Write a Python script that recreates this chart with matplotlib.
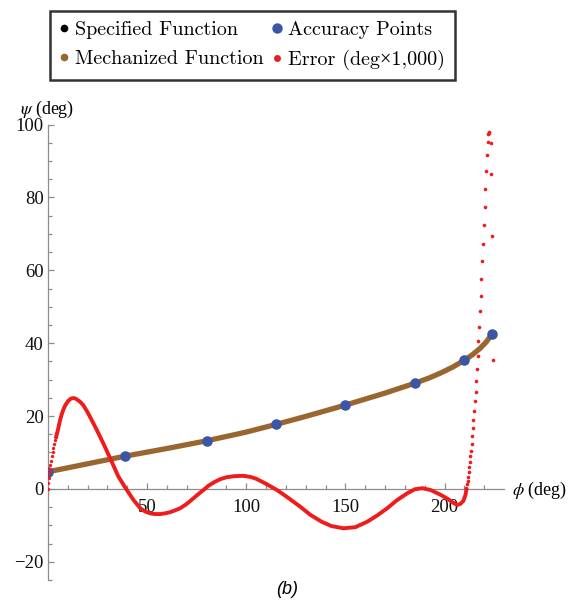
import numpy as np
import matplotlib
matplotlib.use("Agg")
import matplotlib.pyplot as plt
from matplotlib.lines import Line2D

plt.rcParams['font.family'] = ['Liberation Serif', 'DejaVu Serif']
plt.rcParams['mathtext.fontset'] = 'stix'

# function curve (specified / mechanized), deg
func_phi = [0, 10, 20, 39, 60, 80, 100, 115, 130, 150, 170, 185, 192, 198, 204, 210, 214, 218, 221, 224]
func_psi = [4.7, 5.8, 6.9, 9.0, 11.1, 13.2, 15.6, 17.7, 19.9, 23.0, 26.3, 29.0, 30.4, 31.8, 33.4, 35.3,
            36.8, 38.6, 40.3, 42.5]

# accuracy points
acc_phi = [0, 39, 80, 115, 150, 185, 210, 224]
acc_psi = [4.7, 9.0, 13.2, 17.7, 23.0, 29.0, 35.3, 42.6]

# error (deg x 1000): first dots, smooth part, steep tail dots
err_head_phi = [0.0, 0.15, 0.35, 0.6, 0.9, 1.2, 1.5, 1.9, 2.3, 2.7, 3.1, 3.6, 4.1]
err_head_val = [0.0, 1.5, 2.9, 4.3, 5.5, 6.7, 7.8, 8.9, 10.0, 11.1, 12.2, 13.3, 14.3]

err_phi = [4.1, 5.0, 6.1, 7.0, 7.7, 8.4, 9.0, 10.3, 11.3, 12.3, 13.4, 14.5, 16.0, 17.8, 20.0,
           22.9, 25.5, 27.9, 31.7, 35.5, 39.4, 43.1, 46.5, 49.0, 51.5, 54.0, 56.6, 59.0, 61.5,
           64.0, 66.7, 69.5, 72.0, 75.0, 78.4, 81.0, 84.0, 87.0, 90.0, 94.0, 98.6, 102.0,
           105.0, 110.0, 115.5, 120.0, 127.3, 132.3, 138.0, 143.0, 149.1, 155.0, 161.0,
           166.0, 171.1, 176.0, 181.2, 185.0, 188.7, 193.0, 198.0, 201.5, 204.7, 206.4,
           208.0, 209.5, 210.6, 211.0]
err_val = [14.3, 16.2, 18.9, 20.6, 21.7, 22.6, 23.2, 24.2, 24.7, 24.9, 24.9, 24.6, 24.0, 23.0, 21.0,
           18.0, 15.2, 12.5, 8.0, 3.4, 0.0, -3.0, -5.3, -6.2, -6.7, -6.9, -6.9, -6.7, -6.4,
           -5.9, -5.3, -4.3, -3.2, -1.8, -0.3, 0.9, 1.9, 2.7, 3.2, 3.5, 3.6, 3.3,
           2.8, 1.4, -0.3, -2.0, -4.9, -7.1, -9.0, -10.2, -10.8, -10.5, -9.0,
           -7.3, -5.3, -3.1, -1.2, -0.1, 0.2, -0.3, -1.6, -2.7, -3.9, -4.4,
           -4.1, -3.3, -1.6, -0.3]

err_tail_phi = [211.0, 211.3, 211.6, 211.9, 212.2, 212.5, 212.8, 213.1, 213.4, 213.7, 214.0,
                214.3, 214.6, 214.9, 215.3, 215.7, 216.0, 216.4, 216.8, 217.1, 217.5, 224.4,
                217.9, 218.2, 218.6, 219.0, 219.4, 219.8, 223.7, 220.2, 220.6, 221.0, 221.4,
                223.2, 221.7, 223.2, 222.0, 222.3, 222.6]
err_tail_val = [0.2, 1.3, 2.3, 3.4, 4.6, 6.0, 7.3, 8.9, 10.5, 12.3, 14.5,
                16.7, 18.9, 21.4, 24.0, 26.7, 29.7, 33.0, 36.6, 40.5, 44.4, 35.5,
                48.8, 52.9, 57.7, 62.6, 67.3, 72.4, 69.4, 77.5, 82.3, 87.2, 91.6,
                86.5, 95.2, 94.8, 97.3, 97.6, 97.9]

legend_labels = ["Specified Function", "Accuracy Points", "Mechanized Function", "Error (deg\u00d71,000)"]

c_black = "#000000"
c_blue = "#3b56a5"
c_brown = "#9a6630"
c_red = "#f01c1c"
c_axis = "#8c8c8c"

fig = plt.figure(figsize=(5.7, 6.03), dpi=100)
ax = fig.add_axes([0.0842, 0.0381, 0.80, 0.7554])
ax.set_xlim(0, 230)
ax.set_ylim(-25, 100)

ax.plot(func_phi, func_psi, color=c_black, lw=2.0, zorder=2)
ax.plot(func_phi, func_psi, color=c_brown, lw=3.8, solid_capstyle='round', zorder=3)
ax.plot(acc_phi, acc_psi, 'o', color=c_blue, ms=7.6, mec='none', zorder=4)
ax.plot(err_phi, err_val, color=c_red, lw=2.8, zorder=5)
ax.plot(err_head_phi, err_head_val, 'o', color=c_red, ms=2.4, mec='none', zorder=5)
ax.plot(err_tail_phi, err_tail_val, 'o', color=c_red, ms=2.6, mec='none', zorder=5)

for s in ['top', 'right']:
    ax.spines[s].set_visible(False)
ax.spines['left'].set_position(('data', 0))
ax.spines['bottom'].set_position(('data', 0))
for s in ['left', 'bottom']:
    ax.spines[s].set_color(c_axis)
    ax.spines[s].set_linewidth(0.9)

ax.set_xticks([50, 100, 150, 200])
ax.set_xticks(np.arange(10, 230, 10), minor=True)
ax.set_yticks([-20, 0, 20, 40, 60, 80, 100])
ax.set_yticks(np.arange(-25, 101, 5), minor=True)
ax.tick_params(which='both', direction='in', color=c_axis, width=0.9, labelsize=13.5, labelcolor='#111111')
ax.tick_params(which='major', length=4.5)
ax.tick_params(which='minor', length=2.8)
ax.tick_params(axis='x', pad=7)
ax.tick_params(axis='y', pad=3)
ax.set_yticklabels(["\u221220", "0", "20", "40", "60", "80", "100"])

fig.text(47 / 570, 1 - 109 / 603, r"$\psi$ (deg)", fontsize=13, ha='center', va='center')
fig.text(512 / 570, 1 - 490 / 603, r"$\phi$ (deg)", fontsize=13, ha='left', va='center')
fig.text(287 / 570, 1 - 590 / 603, "(b)", fontsize=13, style='italic',
         family=['Liberation Sans', 'DejaVu Sans'], ha='center', va='center')

handles = [
    Line2D([], [], ls='none', marker='o', color=c_black, ms=5.5, mec='none'),
    Line2D([], [], ls='none', marker='o', color=c_blue, ms=7.5, mec='none'),
    Line2D([], [], ls='none', marker='o', color=c_brown, ms=5.5, mec='none'),
    Line2D([], [], ls='none', marker='o', color=c_red, ms=5.0, mec='none'),
]
order = [0, 2, 1, 3]
leg = fig.legend([handles[i] for i in order], [legend_labels[i] for i in order],
                 ncol=2, loc='center', bbox_to_anchor=(252.5 / 570, 1 - 45.5 / 603),
                 prop={'family': ['cmr10', 'Liberation Serif'], 'size': 14.5},
                 frameon=True, fancybox=False, handlelength=0.4,
                 handletextpad=0.35, columnspacing=0.45, labelspacing=0.5,
                 borderpad=0.5, borderaxespad=0)
leg.get_frame().set_edgecolor('black')
leg.get_frame().set_linewidth(1.8)

fig.savefig("out.png", dpi=100)
